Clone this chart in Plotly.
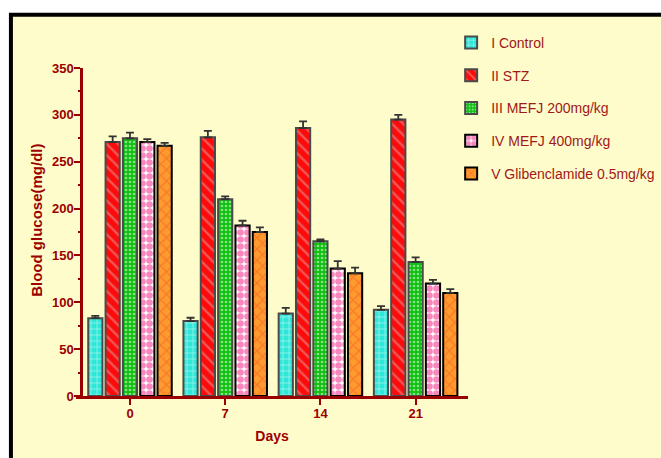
import plotly.graph_objects as go

days = ["0", "7", "14", "21"]
group_names = ["I Control", "II STZ", "III MEFJ 200mg/kg", "IV MEFJ 400mg/kg",
               "V Glibenclamide 0.5mg/kg"]
control = [83, 80, 88, 92]
control_err = [2.5, 3.5, 6, 4]
stz = [271, 276, 286, 295]
stz_err = [6, 7, 7, 5]
mefj200 = [275, 210, 165, 143]
mefj200_err = [6, 3, 2, 5]
mefj400 = [271, 182, 136, 120]
mefj400_err = [3, 5, 8, 4]
glib = [267, 175, 131, 110]
glib_err = [3, 5, 6, 4]

values = [control, stz, mefj200, mefj400, glib]
errors = [control_err, stz_err, mefj200_err, mefj400_err, glib_err]

# fill styles: (background, pattern colour, shape, size, solidity, outline)
styles = [
    ("#30E6D8", "#FFFFFF", "+", 6, 0.25, "#4A4A4A"),
    ("#FF0A0A", "#D9A6A6", "\\", 8, 0.3, "#4A4A4A"),
    ("#10C010", "#FFFFFF", ".", 4, 0.35, "#4A4A4A"),
    ("#FFFFFF", "#F0107A", ".", 7, 0.7, "#000000"),
    ("#FF9A2E", "#F05A20", "x", 8, 0.3, "#000000"),
]

DARK_RED = "#9B0000"
TEXT_RED = "#A01818"
FONT = "Liberation Sans, Arial, sans-serif"

fig = go.Figure()
for i, name in enumerate(group_names):
    bg, fg, shape, size, sol, edge = styles[i]
    fig.add_trace(go.Bar(
        x=days, y=values[i], name=name, legendgroup=str(i),
        marker=dict(color=bg, line=dict(color=edge, width=2),
                    pattern=dict(shape=shape, fillmode="overlay", fgcolor=fg,
                                 size=size, solidity=sol)),
        error_y=dict(type="data", symmetric=False, array=errors[i],
                     arrayminus=[0] * len(days), color="#333333",
                     thickness=1.8, width=4),
    ))

# pale panel with a heavy black frame on the left and top
fig.add_shape(type="rect", xref="paper", yref="paper",
              x0=-0.166, x1=1.6, y0=-0.3, y1=1.162,
              fillcolor="#FFFCCB", line=dict(color="black", width=4),
              layer="below")

# vertical axis title
fig.add_annotation(text="Blood glucose(mg/dl)", xref="paper", yref="paper",
                   x=-0.0995, y=0.537, textangle=-90, showarrow=False,
                   xanchor="center", yanchor="middle",
                   font=dict(family=FONT, size=15, color=DARK_RED, weight="bold"))

fig.update_layout(
    width=661, height=458,
    margin=dict(l=76, r=193, t=68, b=62, autoexpand=False),
    paper_bgcolor="white", plot_bgcolor="rgba(0,0,0,0)",
    barmode="group", bargap=0.09, bargroupgap=0.18,
    font=dict(family=FONT, color=DARK_RED),
    showlegend=True,
    legend=dict(x=0.957, y=1.125, xanchor="left", yanchor="top",
                bgcolor="rgba(0,0,0,0)", traceorder="grouped",
                tracegroupgap=11.5,
                font=dict(family=FONT, size=14, color=TEXT_RED)),
    xaxis=dict(
        type="category", range=[-0.567, 3.55],
        showline=True, linecolor=DARK_RED, linewidth=3,
        ticks="outside", ticklen=6, tickwidth=2, tickcolor=DARK_RED,
        ticklabelstandoff=-3,
        tickfont=dict(family=FONT, size=13, color=DARK_RED, weight="bold"),
        showgrid=False, zeroline=False,
        title=dict(text="Days", standoff=12,
                   font=dict(family=FONT, size=14, color=DARK_RED, weight="bold")),
    ),
    yaxis=dict(
        range=[0, 350], dtick=50, anchor="free", position=0.013,
        showline=True, linecolor=DARK_RED, linewidth=2.5,
        ticks="outside", ticklen=6, tickwidth=2, tickcolor=DARK_RED,
        ticklabelstandoff=-2,
        minor=dict(dtick=25, ticks="outside", ticklen=2, tickwidth=2,
                   tickcolor=DARK_RED),
        tickfont=dict(family=FONT, size=13, color=DARK_RED, weight="bold"),
        showgrid=False, zeroline=False,
    ),
)

fig.write_html("out.html")
